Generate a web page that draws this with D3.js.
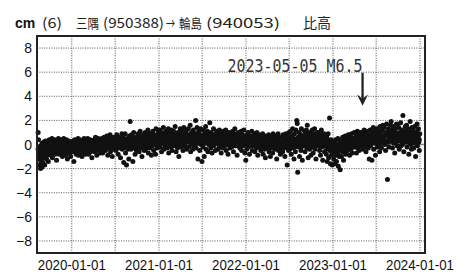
<!DOCTYPE html>
<html>
<head>
<meta charset="utf-8">
<script src="https://cdn.jsdelivr.net/npm/d3@7"></script>
<style>
  body { margin: 0; background: #fff; }
</style>
</head>
<body>
<div id="chart"></div>
<script>
// monthly groups of daily-ish values (cm)
const firstMonth = "2019-08-01";
const firstDay = "2019-08-12";

const vals2019 = [
  [1.0, 0.4, -0.6, -1.2, -1.7, -0.3, -2.0, -1.4, -0.8, -1.9, 0.1, -1.1],
  [-1.5, -0.4, 0.2, -1.0, -1.7, -0.6, 0.3, -0.2, -1.2, -0.9, 0.1, -0.5, -1.4, -0.3, 0.4, -0.8],
  [-0.2, 0.3, -0.9, -0.4, 0.5, -1.1, -0.1, 0.2, -0.6, -0.3, 0.4, -0.8, -0.2, 0.1, -1.3, -0.5],
  [0.2, -0.5, 0.5, -0.3, -0.8, 0.1, -0.1, 0.4, -0.7, -0.2, 0.3, -1.0, 0.0, -0.4, 0.5, -0.6],
  [-0.4, 0.2, -0.9, -0.1, 0.4, -0.6, -1.2, 0.0, -0.3, 0.3, -0.7, -0.2, 0.1, -1.0, -0.5, 0.2]
];
const vals2020 = [
  [0.1, -0.6, 0.3, -0.3, -1.4, -0.1, 0.4, -0.5, 0.0, -0.8, 0.2, -0.2, -0.4, 0.5, -0.9, 0.0],
  [-0.3, 0.4, -0.7, 0.1, -0.2, 0.3, -1.0, -0.4, 0.2, -0.1, -0.6, 0.5, -0.3, 0.0, -0.8, 0.2],
  [0.3, -0.5, 0.0, 0.5, -0.3, -0.8, 0.2, -0.1, 0.4, -0.6, 0.1, -0.2, -1.1, 0.3, -0.4, 0.0],
  [-0.2, 0.4, -0.6, 0.1, 0.6, -0.3, 0.0, -0.9, 0.3, -0.1, 0.5, -0.5, 0.2, -0.2, -0.7, 0.1],
  [0.2, -0.4, 0.5, 0.0, -0.7, 0.3, -0.2, 0.6, -0.1, 0.1, -0.5, 0.4, -0.3, 0.7, 0.0, -0.9],
  [-0.1, 0.5, -0.3, 0.2, 0.8, -0.6, 0.1, -0.2, 0.4, -1.0, 0.3, -0.4, 0.6, 0.0, -0.2, 0.2],
  [0.4, -0.5, 0.1, 0.8, -0.2, 0.3, -0.8, 0.0, 0.6, -0.3, 0.2, -1.1, 0.5, -0.1, 0.9, -0.4],
  [-0.3, 0.6, -1.5, 0.2, -0.2, 0.9, -0.7, 0.4, -1.7, 0.0, 0.5, -0.4, 0.1, -1.2, 0.7, -0.1],
  [1.9, 0.3, -0.4, 0.8, -0.1, 0.5, -1.4, 0.2, 1.0, -0.3, 0.4, -0.8, 0.6, 0.0, -0.5, 0.3],
  [0.5, -0.2, 0.9, 0.1, -0.6, 0.4, 1.1, -0.3, 0.2, 0.7, -1.0, 0.3, -0.1, 0.8, 0.0, -0.5],
  [0.3, 1.0, -0.4, 0.6, 0.1, -0.2, 0.8, 1.2, -0.7, 0.4, 0.0, 0.9, -0.3, 0.5, 0.2, -0.9],
  [0.6, -0.1, 1.1, 0.3, -0.5, 0.8, 0.0, 0.4, -0.8, 1.3, 0.2, -0.3, 0.7, 0.1, 1.0, -0.2]
];
const vals2021 = [
  [0.5, 1.2, -0.2, 0.8, 0.3, -0.6, 1.0, 0.1, 0.6, 1.4, -0.4, 0.4, 0.9, -0.1, 0.2, 1.1],
  [0.7, -0.3, 1.0, 0.2, 1.3, -0.7, 0.5, 0.0, 0.9, 0.3, -0.2, 1.2, 0.6, -0.5, 0.8, 0.1],
  [0.4, 1.1, -0.1, 0.7, 1.5, 0.2, -0.6, 0.9, 0.3, -0.3, 1.0, 0.5, -1.0, 0.8, 0.0, 1.3],
  [0.6, -0.2, 1.2, 0.3, 0.9, -0.5, 0.1, 1.4, 0.5, -0.1, 0.8, 0.2, 1.1, -0.4, 0.7, 0.4],
  [0.5, 1.3, -0.2, 0.8, 0.2, 1.6, -0.6, 0.4, 1.0, 0.0, 0.7, -0.4, 1.2, 0.3, 0.9, -0.1],
  [0.4, 2.0, -0.3, 0.9, 1.4, 0.1, -1.2, 0.6, 1.1, 0.2, -0.5, 0.8, 1.3, 0.0, 0.5, -1.4],
  [0.7, -0.2, 1.2, 0.3, -1.0, 0.9, 0.1, 1.5, -0.4, 0.6, 0.2, 1.1, -0.6, 0.4, 0.8, 0.0],
  [1.8, 0.3, -0.3, 1.0, 0.5, -0.7, 0.8, 0.1, 1.3, -0.1, 0.6, 0.2, -0.5, 0.9, 0.4, 1.1],
  [0.3, 1.0, -0.4, 0.6, 0.0, 1.2, -0.2, 0.5, 0.8, -0.7, 0.2, 0.9, 0.1, -0.3, 1.1, 0.4],
  [0.7, -0.1, 0.4, 1.2, -0.5, 0.3, 0.9, 0.0, -0.8, 0.6, 1.0, 0.2, -0.3, 0.8, 0.1, 0.5],
  [-0.2, 0.6, 1.1, 0.1, -0.6, 0.8, 0.3, 1.3, -0.1, 0.4, 0.0, 0.9, -0.9, 0.5, 0.2, 1.0],
  [0.4, 0.9, -0.3, 0.6, 0.1, 1.1, -0.5, 0.3, 0.8, -0.1, 0.5, 1.2, 0.0, -0.7, 0.6, -1.3]
];
const vals2022 = [
  [0.3, -0.4, 0.8, 0.0, 1.0, -0.2, 0.5, -0.8, 0.2, 0.7, -0.1, 0.4, 1.1, -0.5, 0.1, 0.6],
  [-0.1, 0.5, 0.9, -0.6, 0.2, 0.0, 0.7, -0.3, 1.0, 0.3, -0.9, 0.4, 0.1, 0.8, -0.2, 0.5],
  [0.2, -0.5, 0.6, 0.0, -0.2, 0.9, -0.8, 0.3, 0.1, -0.4, 0.7, -1.1, 0.4, -0.1, 0.5, -0.3],
  [0.4, -0.2, 0.8, -0.6, 0.1, 0.5, -1.0, 0.2, -0.3, 0.6, 0.0, -0.7, 0.9, 0.3, -0.1, 0.5],
  [-0.4, 0.3, 0.7, -0.1, -1.2, 0.5, 0.0, 0.9, -0.5, 0.2, -0.2, 0.6, -0.8, 0.4, 0.1, -0.3],
  [0.2, -0.6, 0.8, 0.0, -0.3, 0.5, -1.0, 0.3, 0.9, -0.2, 0.4, -1.7, 0.1, 0.6, -0.5, 1.0],
  [0.5, -0.4, 1.1, 0.2, -0.8, 0.7, 0.0, 1.3, -0.3, 0.4, -1.2, 0.9, 0.1, -0.6, 1.2, 0.3],
  [2.0, 1.75, -2.3, 0.6, -0.2, 1.0, -1.0, 0.3, 0.8, -0.5, 1.3, 0.1, -1.3, 0.7, 0.4, -0.1],
  [0.4, 1.1, -0.6, 0.8, 0.0, 1.2, -0.3, 1.6, 0.5, -1.1, 0.9, 0.2, -0.4, 1.0, 0.3, -0.9],
  [0.7, -0.2, 1.2, 0.4, -0.7, 0.9, 0.1, 1.3, -0.4, 0.6, -1.2, 0.8, 0.3, 1.0, -0.1, 0.5],
  [0.3, 1.0, -0.5, 0.6, -0.9, 0.2, 1.2, -0.2, 0.8, -1.3, 0.4, 0.0, 0.9, -0.6, 0.5, -0.1],
  [0.2, -0.8, 0.6, -1.4, -0.2, 0.9, -1.1, 0.3, 2.2, -0.5, -1.6, 0.4, -0.9, 0.0, -1.7, -0.3]
];
const vals2023 = [
  [-0.5, -1.2, 0.2, -1.6, -0.3, 0.4, -0.9, -1.4, 0.0, -0.6, 0.5, -1.8, -0.2, -1.0, 0.3, -2.1],
  [-0.4, 0.3, -1.0, 0.1, -0.6, 0.6, -0.2, -1.3, 0.4, -0.5, 0.0, 0.7, -0.8, 0.2, -0.3, 0.5],
  [0.2, -0.5, 0.8, -0.1, 0.4, -0.9, 0.6, 0.0, -0.4, 0.9, 0.1, -0.7, 0.5, -0.2, 0.3, 1.0],
  [0.5, -0.2, 0.9, 0.2, -0.7, 0.6, 1.1, -0.3, 0.3, 0.8, -0.5, 0.1, 1.0, 0.4, -0.1, 0.7],
  [0.3, 1.0, -0.4, 0.7, 0.1, 1.2, -0.2, 0.5, 0.9, -0.6, 0.4, 1.1, 0.0, 0.6, -0.3, 0.8],
  [-1.2, 0.6, 1.2, -0.1, 0.8, 0.2, -1.3, 1.0, 0.4, 1.4, -0.4, 0.7, 0.1, 1.1, -0.9, 0.5],
  [0.8, 1.3, -0.2, 0.5, 1.1, 0.0, 0.9, -0.6, 1.5, 0.3, 0.7, -0.3, 1.2, 0.4, 1.6, 0.1],
  [0.6, 1.4, 0.0, 1.0, -0.5, 0.8, 1.7, 0.2, -2.9, 0.9, 1.3, -0.2, 0.5, 1.1, 0.3, 1.6],
  [1.9, 0.4, 1.2, -0.3, 0.8, 1.5, 0.1, 1.0, -0.7, 0.6, 1.3, 0.2, 1.7, -0.1, 0.9, 0.5],
  [0.7, 1.4, -0.4, 1.0, 0.3, 1.8, -0.1, 0.6, 1.2, 0.0, 2.4, 0.8, -0.6, 1.1, 0.4, 1.5],
  [1.0, 0.2, 1.6, -0.2, 0.7, 1.3, 0.4, -0.8, 1.1, 0.5, 1.9, 0.0, 0.9, -0.4, 1.4, 0.6],
  [0.3, 1.2, -0.3, 0.8, 1.5, 0.1, -1.0, 1.0, 0.5, 1.7, -0.1, 0.7, 1.3, 0.2, -0.5, 0.9]
];

// the remaining days of each month, near the middle of the band
const core2019 = [
  [-0.4, -0.7, -0.2, -0.9, -0.5, -0.1, -0.6, -0.3],
  [-0.3, -0.6, 0.0, -0.5, -0.8, -0.2, -0.4, -0.1],
  [-0.4, -0.1, -0.6, -0.2, 0.1, -0.5, -0.3, 0.0],
  [-0.3, 0.0, -0.5, -0.1, 0.2, -0.4, -0.2, 0.1],
  [-0.2, -0.5, 0.0, -0.4, -0.1, -0.6, -0.3, 0.1]
];
const core2020 = [
  [-0.1, -0.4, 0.1, -0.3, 0.0, -0.5, -0.2, 0.2],
  [-0.3, 0.0, -0.4, -0.1, 0.1, -0.5, -0.2, 0.2],
  [0.0, -0.3, 0.2, -0.2, 0.1, -0.4, -0.1, 0.3],
  [-0.1, 0.2, -0.3, 0.0, 0.3, -0.4, 0.1, -0.2],
  [0.1, -0.2, 0.3, -0.1, 0.2, -0.3, 0.0, 0.4],
  [0.0, 0.3, -0.2, 0.1, 0.4, -0.3, 0.2, -0.1],
  [0.2, -0.1, 0.4, 0.0, 0.3, -0.2, 0.1, 0.5],
  [0.1, -0.2, 0.3, -0.1, 0.2, -0.3, 0.0, 0.4],
  [0.2, 0.0, 0.4, -0.1, 0.3, -0.2, 0.1, 0.5],
  [0.3, 0.0, 0.5, 0.1, 0.4, -0.1, 0.2, 0.6],
  [0.2, 0.5, 0.0, 0.4, -0.1, 0.3, 0.6, 0.1],
  [0.4, 0.1, 0.6, 0.2, 0.5, 0.0, 0.3, 0.7]
];
const core2021 = [
  [0.5, 0.2, 0.7, 0.3, 0.6, 0.1, 0.4, 0.8],
  [0.3, 0.6, 0.1, 0.5, 0.8, 0.2, 0.4, 0.7],
  [0.5, 0.2, 0.7, 0.3, 0.6, 0.0, 0.4, 0.8],
  [0.4, 0.7, 0.1, 0.5, 0.2, 0.6, 0.3, 0.8],
  [0.5, 0.2, 0.7, 0.4, 0.1, 0.6, 0.3, 0.8],
  [0.3, 0.6, 0.2, 0.5, 0.8, 0.1, 0.4, 0.7],
  [0.4, 0.1, 0.6, 0.3, 0.7, 0.2, 0.5, 0.0],
  [0.5, 0.2, 0.7, 0.3, 0.6, 0.0, 0.4, 0.8],
  [0.3, 0.6, 0.1, 0.4, 0.7, 0.0, 0.2, 0.5],
  [0.2, 0.5, 0.0, 0.4, 0.7, 0.1, 0.3, 0.6],
  [0.4, 0.1, 0.6, 0.2, 0.5, -0.1, 0.3, 0.7],
  [0.3, 0.6, 0.0, 0.4, 0.7, 0.1, 0.2, 0.5]
];
const core2022 = [
  [0.2, 0.5, -0.1, 0.3, 0.6, 0.0, 0.4, 0.1],
  [0.1, 0.4, -0.1, 0.3, 0.5, 0.0, 0.2, 0.6],
  [0.1, 0.3, -0.2, 0.2, 0.4, -0.1, 0.0, 0.5],
  [0.0, 0.3, -0.2, 0.2, 0.4, -0.1, 0.1, 0.5],
  [0.1, -0.2, 0.3, 0.0, 0.4, -0.1, 0.2, 0.5],
  [0.2, -0.1, 0.4, 0.0, 0.3, -0.2, 0.1, 0.5],
  [0.1, 0.4, -0.1, 0.3, 0.0, 0.5, -0.2, 0.2],
  [0.2, -0.1, 0.5, 0.1, 0.4, -0.2, 0.3, 0.6],
  [0.3, 0.0, 0.5, 0.1, 0.4, -0.1, 0.2, 0.6],
  [0.2, 0.5, -0.1, 0.3, 0.0, 0.4, 0.1, 0.6],
  [0.1, 0.4, -0.2, 0.2, 0.0, 0.3, -0.1, 0.5],
  [-0.1, -0.4, 0.1, -0.3, 0.0, -0.5, -0.2, 0.2]
];
const core2023 = [
  [-0.3, -0.6, -0.1, -0.5, -0.2, -0.8, -0.4, 0.0],
  [-0.2, 0.1, -0.4, 0.0, -0.3, 0.2, -0.1, -0.5],
  [0.0, 0.3, -0.2, 0.2, 0.4, -0.1, 0.1, 0.5],
  [0.2, 0.5, -0.1, 0.3, 0.0, 0.6, 0.1, 0.4],
  [0.3, 0.6, 0.0, 0.4, 0.7, 0.1, 0.2, 0.5],
  [0.4, 0.7, 0.1, 0.5, 0.2, 0.8, 0.3, 0.6],
  [0.5, 0.2, 0.8, 0.4, 0.9, 0.1, 0.6, 0.3],
  [0.6, 0.9, 0.3, 0.7, 1.0, 0.2, 0.5, 0.8],
  [0.5, 0.8, 0.2, 0.7, 1.0, 0.3, 0.6, 0.9],
  [0.6, 0.3, 0.9, 0.5, 1.0, 0.2, 0.7, 0.4],
  [0.7, 0.4, 1.0, 0.5, 0.2, 0.8, 0.6, 0.9],
  [0.5, 0.8, 0.2, 0.6, 1.0, 0.3, 0.7, 0.4]
];

const xTickDates = ["2020-01-01", "2021-01-01", "2022-01-01", "2023-01-01", "2024-01-01"];
const xGridDates = ["2020-01-01", "2020-07-01", "2021-01-01", "2021-07-01", "2022-01-01",
                    "2022-07-01", "2023-01-01", "2023-07-01", "2024-01-01"];
const yTicks = [8, 6, 4, 2, 0, -2, -4, -6, -8];
const yTickLabels = ["8", "6", "4", "2", "0", "−2", "−4", "−6", "−8"];
const titleTexts = ["(6)", "三隅", "(950388)", "→", "輪島", "(940053)", "比高"];
const quakeDate = "2023-05-05";
const quakeLabel = "2023-05-05 M6.5";

const width = 471, height = 273;
const margin = {top: 36, right: 46, bottom: 20, left: 37};
const parse = d3.utcParse("%Y-%m-%d");
const tickFont = "'Liberation Sans Narrow', 'Liberation Sans', Arial, sans-serif";

let svg = d3.select("#chart").append("svg")
  .attr("width", width)
  .attr("height", height);

let x = d3.scaleUtc()
  .domain([parse("2019-08-08"), parse("2024-01-22")])
  .range([margin.left, width - margin.right]);
let y = d3.scaleLinear()
  .domain([-9, 9])
  .range([height - margin.bottom, margin.top]);

// spread each month's values across that month
let points = [];
function addMonths(groups, offset) {
  groups.forEach((vals, m) => {
    let start = d3.utcMonth.offset(parse(firstMonth), m);
    let s = m === 0 ? parse(firstDay) : start;
    let span = d3.utcMonth.offset(start, 1) - s;
    vals.forEach((v, i) => {
      points.push({date: new Date(+s + span * (i + offset) / vals.length), value: v});
    });
  });
}
addMonths([...vals2019, ...vals2020, ...vals2021, ...vals2022, ...vals2023], 0.5);
addMonths([...core2019, ...core2020, ...core2021, ...core2022, ...core2023], 0.25);

// grid
svg.append("g")
  .selectAll("line")
  .data(yTicks.filter(d => d !== 0))
  .enter().append("line")
  .attr("x1", margin.left).attr("x2", width - margin.right)
  .attr("y1", d => y(d)).attr("y2", d => y(d))
  .attr("stroke", "#555")
  .attr("stroke-width", 1)
  .attr("stroke-dasharray", "1,1.4");

svg.append("g")
  .selectAll("line")
  .data(xGridDates)
  .enter().append("line")
  .attr("x1", d => x(parse(d))).attr("x2", d => x(parse(d)))
  .attr("y1", margin.top).attr("y2", height - margin.bottom)
  .attr("stroke", "#555")
  .attr("stroke-width", 1)
  .attr("stroke-dasharray", "1,1.4");

svg.append("line")
  .attr("x1", margin.left).attr("x2", width - margin.right)
  .attr("y1", y(0)).attr("y2", y(0))
  .attr("stroke", "#888")
  .attr("stroke-width", 1.5);

// points
svg.append("g")
  .selectAll("circle")
  .data(points)
  .enter().append("circle")
  .attr("cx", d => x(d.date))
  .attr("cy", d => y(d.value))
  .attr("r", 2.5)
  .attr("fill", "#111");

// frame
svg.append("rect")
  .attr("x", margin.left).attr("y", margin.top)
  .attr("width", width - margin.left - margin.right)
  .attr("height", height - margin.top - margin.bottom)
  .attr("fill", "none")
  .attr("stroke", "#222")
  .attr("stroke-width", 2);

// tick labels
svg.append("g")
  .selectAll("text")
  .data(yTicks)
  .enter().append("text")
  .attr("x", 32)
  .attr("y", d => y(d))
  .attr("dy", "0.36em")
  .attr("text-anchor", "end")
  .attr("font-family", tickFont)
  .attr("font-size", 14)
  .attr("fill", "#111")
  .text((d, i) => yTickLabels[i]);

svg.append("g")
  .selectAll("text")
  .data(xTickDates)
  .enter().append("text")
  .attr("x", d => x(parse(d)))
  .attr("y", 270)
  .attr("text-anchor", "middle")
  .attr("font-family", tickFont)
  .attr("font-size", 15)
  .attr("textLength", 68)
  .attr("lengthAdjust", "spacingAndGlyphs")
  .attr("fill", "#111")
  .text(d => d);

// title
svg.append("text")
  .attr("x", 15).attr("y", 28)
  .attr("font-family", tickFont)
  .attr("font-weight", "bold")
  .attr("font-size", 14)
  .attr("fill", "#111")
  .text("cm");

const titleX = [42, 76, 103, 166, 179, 206, 303];
const titleW = [20, 23, 61, 9, 23, 74, 28];
const titleSize = [14, 13, 14, 14, 13, 14, 14];
svg.append("g")
  .selectAll("text")
  .data(titleTexts)
  .enter().append("text")
  .attr("x", (d, i) => titleX[i])
  .attr("y", 28)
  .attr("font-family", "'Noto Sans CJK JP', sans-serif")
  .attr("font-size", (d, i) => titleSize[i])
  .attr("textLength", (d, i) => titleW[i])
  .attr("lengthAdjust", "spacingAndGlyphs")
  .attr("fill", "#222")
  .text(d => d);

// quake marker
let qx = x(parse(quakeDate));
svg.append("text")
  .attr("x", qx)
  .attr("y", y(6.05))
  .attr("text-anchor", "end")
  .attr("font-family", "'DejaVu Sans Mono', monospace")
  .attr("font-size", 18)
  .attr("textLength", 135)
  .attr("lengthAdjust", "spacingAndGlyphs")
  .attr("fill", "#333")
  .text(quakeLabel);

svg.append("line")
  .attr("x1", qx).attr("x2", qx)
  .attr("y1", y(5.95)).attr("y2", y(3.6))
  .attr("stroke", "#222")
  .attr("stroke-width", 2.3);

svg.append("path")
  .attr("d", `M${qx},${y(3.22)} L${qx - 5.5},${y(4.15)} L${qx},${y(3.8)} L${qx + 5.5},${y(4.15)} Z`)
  .attr("fill", "#222");
</script>
</body>
</html>
